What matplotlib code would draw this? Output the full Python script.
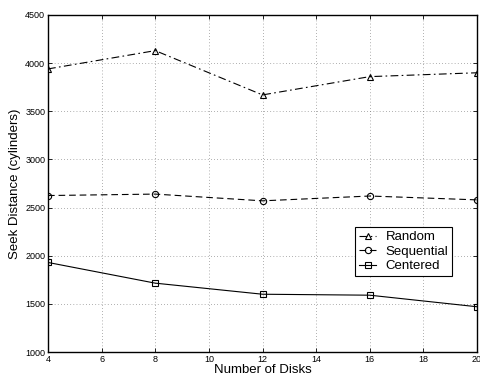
import matplotlib
matplotlib.use("Agg")
import matplotlib.pyplot as plt

plt.rcParams['font.family'] = ['Liberation Sans', 'DejaVu Sans']

disks = [4, 8, 12, 16, 20]
random_seek = [3940, 4130, 3670, 3860, 3900]
sequential_seek = [2625, 2640, 2570, 2620, 2580]
centered_seek = [1930, 1715, 1600, 1590, 1470]

fig = plt.figure(figsize=(4.8, 3.81), dpi=100)
ax = fig.add_axes([48 / 480, 1 - 352 / 381, 429 / 480, 337 / 381])

ax.plot(disks, random_seek, color='black', linestyle='-.', linewidth=0.8,
        marker='^', markersize=4.5, markerfacecolor='none', markeredgewidth=0.8,
        label='Random', dashes=(7, 3, 1.5, 3))
ax.plot(disks, sequential_seek, color='black', linestyle='--', linewidth=0.8,
        marker='o', markersize=4.5, markerfacecolor='none', markeredgewidth=0.8,
        label='Sequential', dashes=(6, 3.5))
ax.plot(disks, centered_seek, color='black', linestyle='-', linewidth=0.8,
        marker='s', markersize=4, markerfacecolor='none', markeredgewidth=0.8,
        label='Centered')

ax.set_xlim(4, 20)
ax.set_ylim(1000, 4500)
ax.set_xticks(range(4, 21, 2))
ax.set_yticks(range(1000, 4501, 500))
ax.tick_params(labelsize=6.5, direction='in', length=3, width=0.6, pad=2,
               top=True, right=True)
ax.grid(True, linestyle=(0, (1, 3.5)), linewidth=0.5, color='#666666')
for s in ax.spines.values():
    s.set_linewidth(1.0)

ax.set_xlabel('Number of Disks', fontsize=9.5, labelpad=0)
ax.set_ylabel('Seek Distance (cylinders)', fontsize=9.5, labelpad=3)

leg = ax.legend(loc='upper left', bbox_to_anchor=(0.716, 0.371), fontsize=9.5,
                frameon=True, fancybox=False, edgecolor='black', framealpha=1,
                handlelength=1.3, handletextpad=0.7, borderpad=0.3,
                labelspacing=0.18, borderaxespad=0)
leg.get_frame().set_linewidth(0.8)

fig.savefig('out.png', dpi=100)
